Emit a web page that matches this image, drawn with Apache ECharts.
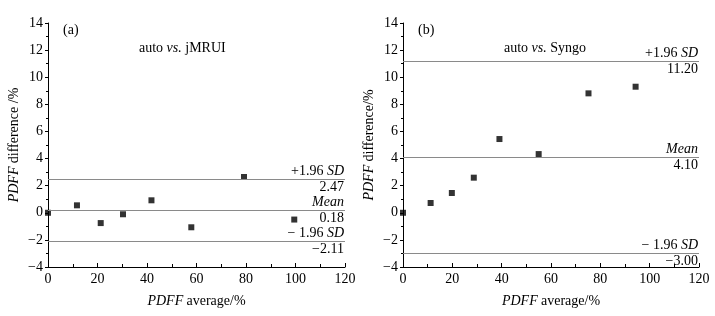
<!DOCTYPE html>
<html lang="en">

<head>
    <meta charset="UTF-8">
    <title>PDFF Bland-Altman</title>
</head>

<body style="margin:0">
    <div id="main" style="width: 715px; height:316px"></div>
    <script src="https://cdn.jsdelivr.net/npm/echarts@6/dist/echarts.min.js"></script>
    <script type="text/javascript">
        var myChart = echarts.init(document.getElementById('main'));

        // (a) auto vs. jMRUI
        var avgA = [0, 11.7, 21.3, 30.3, 41.8, 57.9, 79.2, 99.5];
        var diffA = [0, 0.55, -0.76, -0.11, 0.92, -1.07, 2.64, -0.5];
        var limitsA = [2.47, 0.18, -2.11];

        // (b) auto vs. Syngo
        var avgB = [0, 11.2, 19.8, 28.7, 39.1, 55.0, 75.2, 94.3];
        var diffB = [0, 0.72, 1.46, 2.59, 5.44, 4.33, 8.81, 9.3];
        var limitsB = [11.20, 4.10, -3.00];

        var limitNames = ['{n|+1.96 }{i|SD}', '{i|Mean}', '{n|\u2212 1.96 }{i|SD}'];

        var font = 'Liberation Serif';
        var rich = {
            n: { fontFamily: font, fontSize: 14, fontWeight: 'normal', color: '#000' },
            i: { fontFamily: font, fontSize: 14, fontWeight: 'normal', color: '#000', fontStyle: 'italic' }
        };

        function minus(v) {
            return String(v).replace('-', '\u2212');
        }

        function xAxisOf(idx) {
            return {
                gridIndex: idx, type: 'value', min: 0, max: 120, interval: 20,
                name: '{i|PDFF} {n|average/%}', nameLocation: 'middle', nameGap: 27,
                nameTextStyle: { rich: rich },
                axisLine: { onZero: false, lineStyle: { color: '#000', width: 1 } },
                axisTick: { inside: true, length: 4, lineStyle: { color: '#000' } },
                minorTick: { show: true, splitNumber: 2, length: 3, lineStyle: { color: '#000' } },
                axisLabel: { fontFamily: font, fontSize: 14, color: '#000', margin: 5 },
                splitLine: { show: false }
            };
        }

        function yAxisOf(idx, nameText) {
            return {
                gridIndex: idx, type: 'value', min: -4, max: 14, interval: 2,
                name: nameText, nameLocation: 'middle', nameGap: 27,
                nameTextStyle: { rich: rich },
                axisLine: { show: true, onZero: false, lineStyle: { color: '#000', width: 1 } },
                axisTick: { inside: false, length: 3, lineStyle: { color: '#000' } },
                minorTick: { show: true, splitNumber: 2, length: 2, lineStyle: { color: '#000' } },
                axisLabel: { fontFamily: font, fontSize: 14, color: '#000', margin: 5, formatter: minus },
                splitLine: { show: false }
            };
        }

        function markLines(limits) {
            var data = [];
            for (var k = 0; k < limits.length; k++) {
                data.push({ yAxis: limits[k], label: { position: 'insideEndTop', formatter: limitNames[k], rich: rich, distance: 1 } });
                data.push({ yAxis: limits[k], label: { position: 'insideEndBottom', formatter: minus(limits[k].toFixed(2)), fontFamily: font, fontSize: 14, color: '#000', distance: 1 } });
            }
            return {
                silent: true, symbol: 'none', animation: false,
                lineStyle: { color: '#8a8a8a', width: 1, type: 'solid' },
                data: data
            };
        }

        function pairs(xs, ys) {
            var out = [];
            for (var k = 0; k < xs.length; k++) out.push([xs[k], ys[k]]);
            return out;
        }

        var option = {
            animation: false,
            grid: [
                { left: 48, right: 370, top: 23, bottom: 49 },
                { left: 403, right: 16, top: 23, bottom: 49 }
            ],
            title: [
                { text: '(a)', left: 58, top: 18, textStyle: { fontFamily: font, fontSize: 14, fontWeight: 'normal', color: '#000' } },
                { text: '{n|auto }{i|vs.}{n| jMRUI}', left: 134, top: 36, textStyle: { rich: rich } },
                { text: '(b)', left: 413, top: 18, textStyle: { fontFamily: font, fontSize: 14, fontWeight: 'normal', color: '#000' } },
                { text: '{n|auto }{i|vs.}{n| Syngo}', left: 499, top: 36, textStyle: { rich: rich } }
            ],
            xAxis: [xAxisOf(0), xAxisOf(1)],
            yAxis: [
                yAxisOf(0, '{i|PDFF} {n|difference /%}'),
                yAxisOf(1, '{i|PDFF} {n|difference/%}')
            ],
            series: [{
                type: 'scatter', xAxisIndex: 0, yAxisIndex: 0,
                symbol: 'rect', symbolSize: 6,
                itemStyle: { color: '#000' },
                data: pairs(avgA, diffA),
                markLine: markLines(limitsA)
            }, {
                type: 'scatter', xAxisIndex: 1, yAxisIndex: 1,
                symbol: 'rect', symbolSize: 6,
                itemStyle: { color: '#000' },
                data: pairs(avgB, diffB),
                markLine: markLines(limitsB)
            }]
        };
        myChart.setOption(option);
    </script>

</body>

</html>
